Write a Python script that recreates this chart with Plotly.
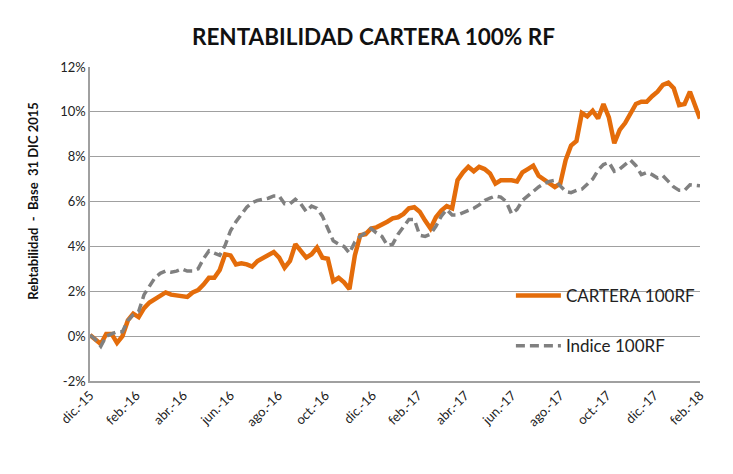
import pandas as pd
import plotly.graph_objects as go

# Weekly observations from 31-dic-2015, last observation 28-feb-2018
dates = list(pd.date_range("2015-12-31", "2018-02-15", freq="7D")) + [pd.Timestamp("2018-02-28")]

cartera = [
    0.05, -0.15, -0.35, 0.1, 0.1, -0.3, 0.0, 0.7, 1.0, 0.85,
    1.25, 1.5, 1.65, 1.8, 1.95, 1.85, 1.8, 1.75, 1.75, 1.95,
    2.05, 2.3, 2.6, 2.6, 2.95, 3.65, 3.6, 3.2, 3.25, 3.2,
    3.1, 3.35, 3.5, 3.6, 3.75, 3.5, 3.05, 3.35, 4.1, 3.8,
    3.5, 3.65, 3.95, 3.5, 3.45, 2.45, 2.6, 2.4, 2.1, 3.6,
    4.5, 4.55, 4.8, 4.85, 4.95, 5.1, 5.25, 5.3, 5.45, 5.7,
    5.75, 5.55, 5.15, 4.8, 5.3, 5.6, 5.8, 5.7, 6.95, 7.3,
    7.55, 7.35, 7.55, 7.45, 7.25, 6.8, 6.95, 6.95, 6.95, 6.9,
    7.3, 7.45, 7.6, 7.15, 7.0, 6.85, 6.65, 6.8, 7.85, 8.5,
    8.7, 9.95, 9.8, 10.05, 9.7, 10.35, 9.75, 8.6, 9.2, 9.5,
    9.9, 10.35, 10.45, 10.45, 10.7, 10.9, 11.2, 11.3, 11.05, 10.3,
    10.35, 10.9, 9.7,
]

indice = [
    0.05, -0.15, -0.45, 0.0, 0.1, 0.2, 0.2, 0.7, 0.95, 1.1,
    1.85, 2.2, 2.6, 2.8, 2.9, 2.85, 2.9, 3.0, 2.9, 2.9,
    3.0, 3.45, 3.8, 3.7, 3.6, 4.05, 4.7, 5.1, 5.45, 5.75,
    5.95, 6.05, 6.1, 6.15, 6.25, 6.25, 5.9, 5.9, 6.1, 5.9,
    5.55, 5.8, 5.7, 5.35, 4.8, 4.25, 4.1, 4.0, 3.7, 4.2,
    4.45, 4.65, 4.8, 4.6, 4.45, 4.05, 4.1, 4.55, 4.9, 5.2,
    5.2, 4.5, 4.45, 4.55, 4.9, 5.35, 5.65, 5.4, 5.4, 5.5,
    5.6, 5.7, 5.85, 6.05, 6.15, 6.25, 6.2, 6.0, 5.45, 5.65,
    6.05, 6.25, 6.5, 6.65, 6.8, 6.9, 6.95, 6.7, 6.45, 6.4,
    6.5, 6.55, 6.8, 7.0, 7.4, 7.65, 7.75, 7.35, 7.45, 7.65,
    7.85, 7.6, 7.2, 7.3, 7.2, 7.05, 7.15, 6.9, 6.65, 6.5,
    6.5, 6.75, 6.7,
]

tick_dates = [
    "2015-12-31", "2016-02-29", "2016-04-30", "2016-06-30", "2016-08-31",
    "2016-10-31", "2016-12-31", "2017-02-28", "2017-04-30", "2017-06-30",
    "2017-08-31", "2017-10-31", "2017-12-31", "2018-02-28",
]
tick_labels = [
    "dic.-15", "feb.-16", "abr.-16", "jun.-16", "ago.-16", "oct.-16", "dic.-16",
    "feb.-17", "abr.-17", "jun.-17", "ago.-17", "oct.-17", "dic.-17", "feb.-18",
]
y_ticks = [-2, 0, 2, 4, 6, 8, 10, 12]
y_tick_labels = [f"{v}%" for v in y_ticks]

FONT = "Lato"
ORANGE = "#E46C0A"
GRAY = "#808080"
GRID = "#A0A0A0"
NB = "\u00a0"

fig = go.Figure()
fig.add_trace(go.Scatter(
    x=dates, y=cartera, mode="lines", name="CARTERA 100RF",
    legendgroup="a", line=dict(color=ORANGE, width=4.5),
))
fig.add_trace(go.Scatter(
    x=dates, y=indice, mode="lines", name="Indice 100RF",
    legendgroup="b", line=dict(color=GRAY, width=3.5, dash="9px,5px"),
))

# white box behind legend hiding the gridlines
fig.add_shape(type="rect", xref="paper", yref="y", x0=0.667, x1=1.0, y0=-1.2, y1=3.2,
              fillcolor="white", line_width=0, layer="between")

y_title = f"<b>Rebtabilidad{NB}{NB}-{NB}{NB}Base{NB}{NB}31 DIC 2015</b>"

fig.update_layout(
    width=733, height=474,
    margin=dict(l=82, r=41, t=59, b=101),
    paper_bgcolor="white", plot_bgcolor="white",
    font=dict(family=FONT, color="#222222"),
    title=dict(text="<b>RENTABILIDAD CARTERA 100% RF</b>", x=0.4986, xanchor="center",
               y=0.939, yanchor="middle", font=dict(size=22.5, color="#111111")),
    showlegend=True,
    legend=dict(x=0.69, y=0.191, xanchor="left", yanchor="middle",
                bgcolor="rgba(0,0,0,0)", font=dict(size=17, color="#222222"),
                traceorder="grouped", tracegroupgap=25, itemwidth=45),
    xaxis=dict(type="date", range=["2015-12-31", "2018-02-28"],
               tickvals=tick_dates, ticktext=tick_labels, tickangle=-45,
               tickfont=dict(size=13), showgrid=False, showline=True,
               linecolor=GRID, linewidth=1.5, ticks="", zeroline=False),
    yaxis=dict(range=[-2, 12], tickvals=y_ticks, ticktext=y_tick_labels,
               tickfont=dict(size=13), showgrid=True, gridcolor=GRID, gridwidth=1.3,
               showline=True, linecolor=GRID, linewidth=1.5, ticks="",
               zeroline=False),
    annotations=[dict(text=y_title, textangle=-90,
                      xref="paper", yref="paper", x=-0.093, y=0.575,
                      xanchor="center", yanchor="middle", showarrow=False,
                      font=dict(size=13, color="#111111"))],
)

fig.write_html("out.html")
